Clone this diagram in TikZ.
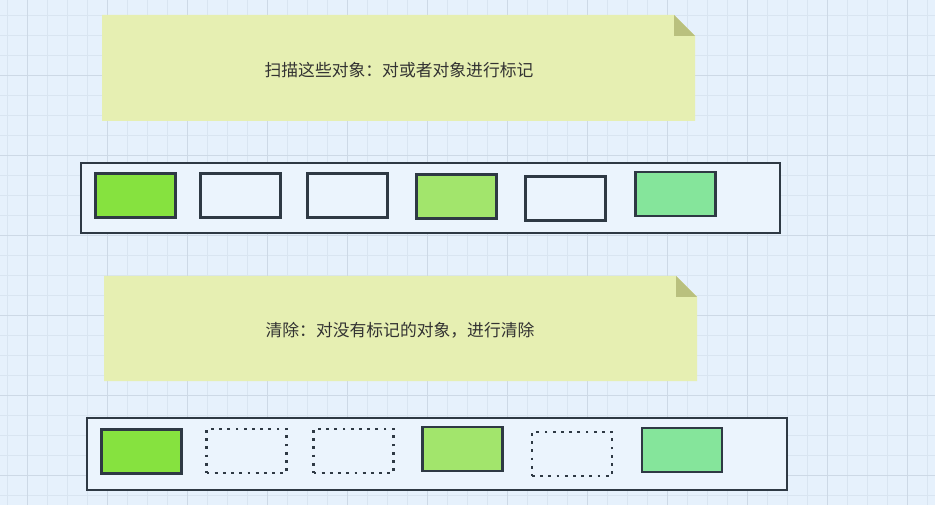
\documentclass[tikz,border=0pt]{standalone}
\usepackage{fontspec}
\usepackage{xcolor}
\usepackage{tikz}
\usetikzlibrary{positioning}
\newfontfamily\cjk{Noto Sans CJK SC}

\definecolor{pagebg}{HTML}{E6F1FC}
\definecolor{gridminor}{HTML}{D9E5F1}
\definecolor{gridmajor}{HTML}{CDD9E6}
\definecolor{notefill}{HTML}{E6EFB2}
\definecolor{foldfill}{HTML}{B9C07E}
\definecolor{edgecol}{HTML}{2E3944}
\definecolor{livegreen}{HTML}{86E23F}
\definecolor{softgreen}{HTML}{A2E56C}
\definecolor{mintgreen}{HTML}{85E59B}
\definecolor{textcol}{HTML}{333333}

\begin{document}
\begin{tikzpicture}[x=1pt, y=-1pt]
  % Define styles
  \tikzstyle{strip}=[rectangle, draw=edgecol, line width=2.6pt, fill=pagebg!80!white]
  \tikzstyle{objbox}=[rectangle, draw=edgecol, line width=2.4pt, minimum width=80pt, minimum height=44pt, inner sep=0pt]
  \tikzstyle{freed}=[objbox, dash pattern=on 2.8pt off 5.4pt, line width=2.8pt]
  \tikzstyle{notetext}=[font=\cjk\fontsize{16.8}{20}\selectfont, text=textcol]

  % Background and grid
  \useasboundingbox (0,0) rectangle (935,505);
  \fill[pagebg] (0,0) rectangle (935,505);
  \foreach \i in {0,...,46} \draw[gridminor, line width=0.8pt] (7+20*\i,0) -- (7+20*\i,505);
  \foreach \i in {0,...,24} \draw[gridminor, line width=0.8pt] (0,15+20*\i) -- (935,15+20*\i);
  \foreach \i in {0,...,11} \draw[gridmajor, line width=0.9pt] (27+80*\i,0) -- (27+80*\i,505);
  \foreach \i in {0,...,6} \draw[gridmajor, line width=0.9pt] (0,-5+80*\i) -- (935,-5+80*\i);

  % Notes
  \fill[notefill] (102,15) -- (674,15) -- (695,36) -- (695,121) -- (102,121) -- cycle;
  \fill[foldfill] (674,15) -- (674,36) -- (695,36) -- cycle;
  \node[notetext] (mark) at (399,70) {扫描这些对象：对或者对象进行标记};

  \fill[notefill] (104,276) -- (676,276) -- (697,297) -- (697,381) -- (104,381) -- cycle;
  \fill[foldfill] (676,276) -- (676,297) -- (697,297) -- cycle;
  \node[notetext] (sweep) at (400,330) {清除：对没有标记的对象，进行清除};

  % Heap before sweep
  \node[strip, minimum width=699pt, minimum height=70pt] (heapA) at (430.5,198) {};
  \node[objbox, fill=livegreen] (a1) at (135.5,195.5) {};
  \node[objbox] (a2) at (240.5,195.5) {};
  \node[objbox] (a3) at (347.5,195.5) {};
  \node[objbox, fill=softgreen] (a4) at (456.5,196.5) {};
  \node[objbox] (a5) at (565.5,198.5) {};
  \node[objbox, fill=mintgreen] (a6) at (675.5,194) {};

  % Heap after sweep
  \node[strip, minimum width=700pt, minimum height=72pt] (heapB) at (437,454) {};
  \node[objbox, fill=livegreen] (b1) at (141.5,451.5) {};
  \node[freed] (b2) at (246.5,451) {};
  \node[freed] (b3) at (353.5,451) {};
  \node[objbox, fill=softgreen] (b4) at (462.5,449) {};
  \node[freed] (b5) at (572,454) {};
  \node[objbox, fill=mintgreen] (b6) at (682,450) {};
\end{tikzpicture}
\end{document}
